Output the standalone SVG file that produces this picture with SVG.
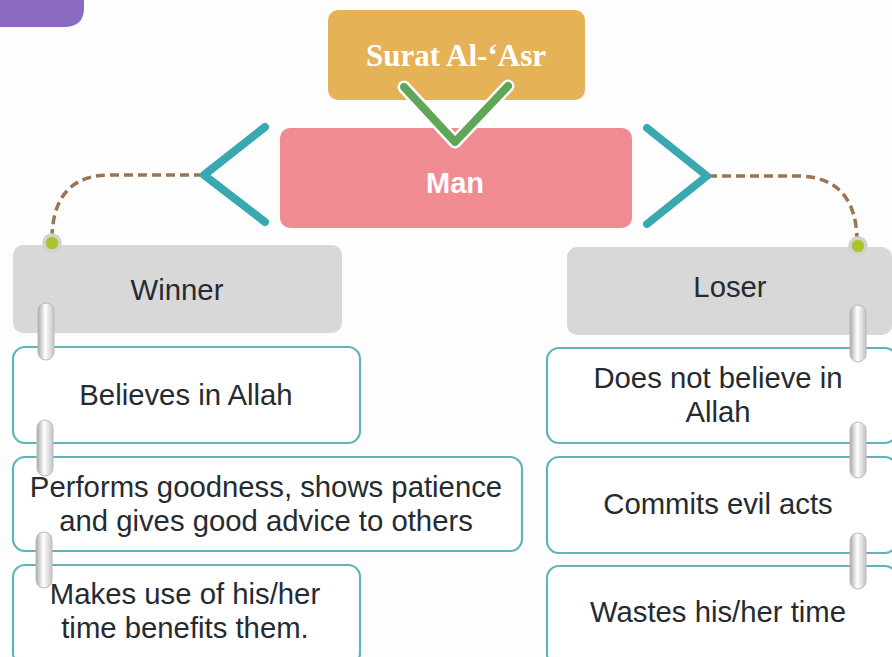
<svg xmlns="http://www.w3.org/2000/svg" width="892" height="657" viewBox="0 0 892 657">
<defs>
<linearGradient id="ringGrad" x1="0" y1="0" x2="1" y2="0">
<stop offset="0" stop-color="#a9a9ab"/>
<stop offset="0.45" stop-color="#ffffff"/>
<stop offset="1" stop-color="#c4c4c6"/>
</linearGradient>
<style>
.item{fill:#ffffff;stroke:#5fb4bc;stroke-width:2.2}
.head{fill:#d8d8d9}
.txt{font-family:"Liberation Sans",Arial,sans-serif;font-size:29.3px;fill:#252b31;text-anchor:middle}
.dash{fill:none;stroke:#9b7552;stroke-width:3.5;stroke-dasharray:9 5}
.chev{fill:none;stroke:#3aa8b0;stroke-width:8;stroke-linecap:round;stroke-linejoin:round}
.ring{fill:url(#ringGrad);stroke:#b9b9bb;stroke-width:1}
.dot{fill:#a8c52a;stroke:#d2d2d2;stroke-width:3.5}
</style>
</defs>
<rect width="892" height="657" fill="#fdfdfd"/>
<path d="M0 0 H84 V8 Q84 27 64 27 H0 Z" fill="#8b6bbf"/>

<g id="surat">
<rect x="328" y="10" width="257" height="90" rx="10" fill="#e5b258"/>
<text x="456" y="66" text-anchor="middle" font-family="Liberation Serif,'Times New Roman',serif" font-weight="bold" font-size="31" fill="#ffffff">Surat Al-‘Asr</text>
</g>
<g id="man">
<rect x="280" y="128" width="352" height="100" rx="10" fill="#f18b92"/>
<text x="455" y="193" text-anchor="middle" font-family="Liberation Sans,Arial,sans-serif" font-weight="bold" font-size="29" fill="#ffffff">Man</text>
</g>

<g id="winner">
<rect class="head" x="13" y="245" width="329" height="88" rx="10"/>
<text class="txt" x="177" y="300">Winner</text>
</g>
<g id="loser">
<rect class="head" x="567" y="247" width="325" height="88" rx="10"/>
<text class="txt" x="730" y="297">Loser</text>
</g>

<g id="w1">
<rect class="item" x="13" y="347" width="347" height="96" rx="12"/>
<text class="txt" x="186" y="405">Believes in Allah</text>
</g>
<g id="w2">
<rect class="item" x="13" y="457" width="509" height="94" rx="12"/>
<text class="txt" x="266" y="497">Performs goodness, shows patience</text>
<text class="txt" x="266" y="531">and gives good advice to others</text>
</g>
<g id="w3">
<rect class="item" x="13" y="565" width="347" height="100" rx="12"/>
<text class="txt" x="185" y="604">Makes use of his/her</text>
<text class="txt" x="185" y="638">time benefits them.</text>
</g>

<g id="l1">
<rect class="item" x="547" y="348" width="350" height="95" rx="12"/>
<text class="txt" x="718" y="388">Does not believe in</text>
<text class="txt" x="718" y="422">Allah</text>
</g>
<g id="l2">
<rect class="item" x="547" y="457" width="350" height="96" rx="12"/>
<text class="txt" x="718" y="514">Commits evil acts</text>
</g>
<g id="l3">
<rect class="item" x="547" y="566" width="350" height="100" rx="12"/>
<text class="txt" x="718" y="622">Wastes his/her time</text>
</g>

<g id="connectors">
<path class="dash" d="M203 175 H110 Q54 175 52 236"/>
<path class="dash" d="M708 176 H800 Q855 178 857 238"/>
<circle class="dot" cx="52" cy="243" r="8"/>
<circle class="dot" cx="858" cy="246" r="8"/>
<polyline class="chev" points="265,127 204,175 265,222"/>
<polyline class="chev" points="647,128 707,176 647,224"/>
<polyline points="404,87 455,142 508,86" fill="none" stroke="#ffffff" stroke-width="13" stroke-linecap="round" stroke-linejoin="round"/>
<polyline points="404,87 455,142 508,86" fill="none" stroke="#5fa656" stroke-width="8" stroke-linecap="round" stroke-linejoin="round"/>
<rect class="ring" x="38" y="303" width="16" height="57" rx="8"/>
<rect class="ring" x="37" y="420" width="16" height="56" rx="8"/>
<rect class="ring" x="36" y="532" width="16" height="56" rx="8"/>
<rect class="ring" x="850" y="305" width="16" height="57" rx="8"/>
<rect class="ring" x="850" y="422" width="16" height="56" rx="8"/>
<rect class="ring" x="850" y="533" width="16" height="56" rx="8"/>
</g>
</svg>
